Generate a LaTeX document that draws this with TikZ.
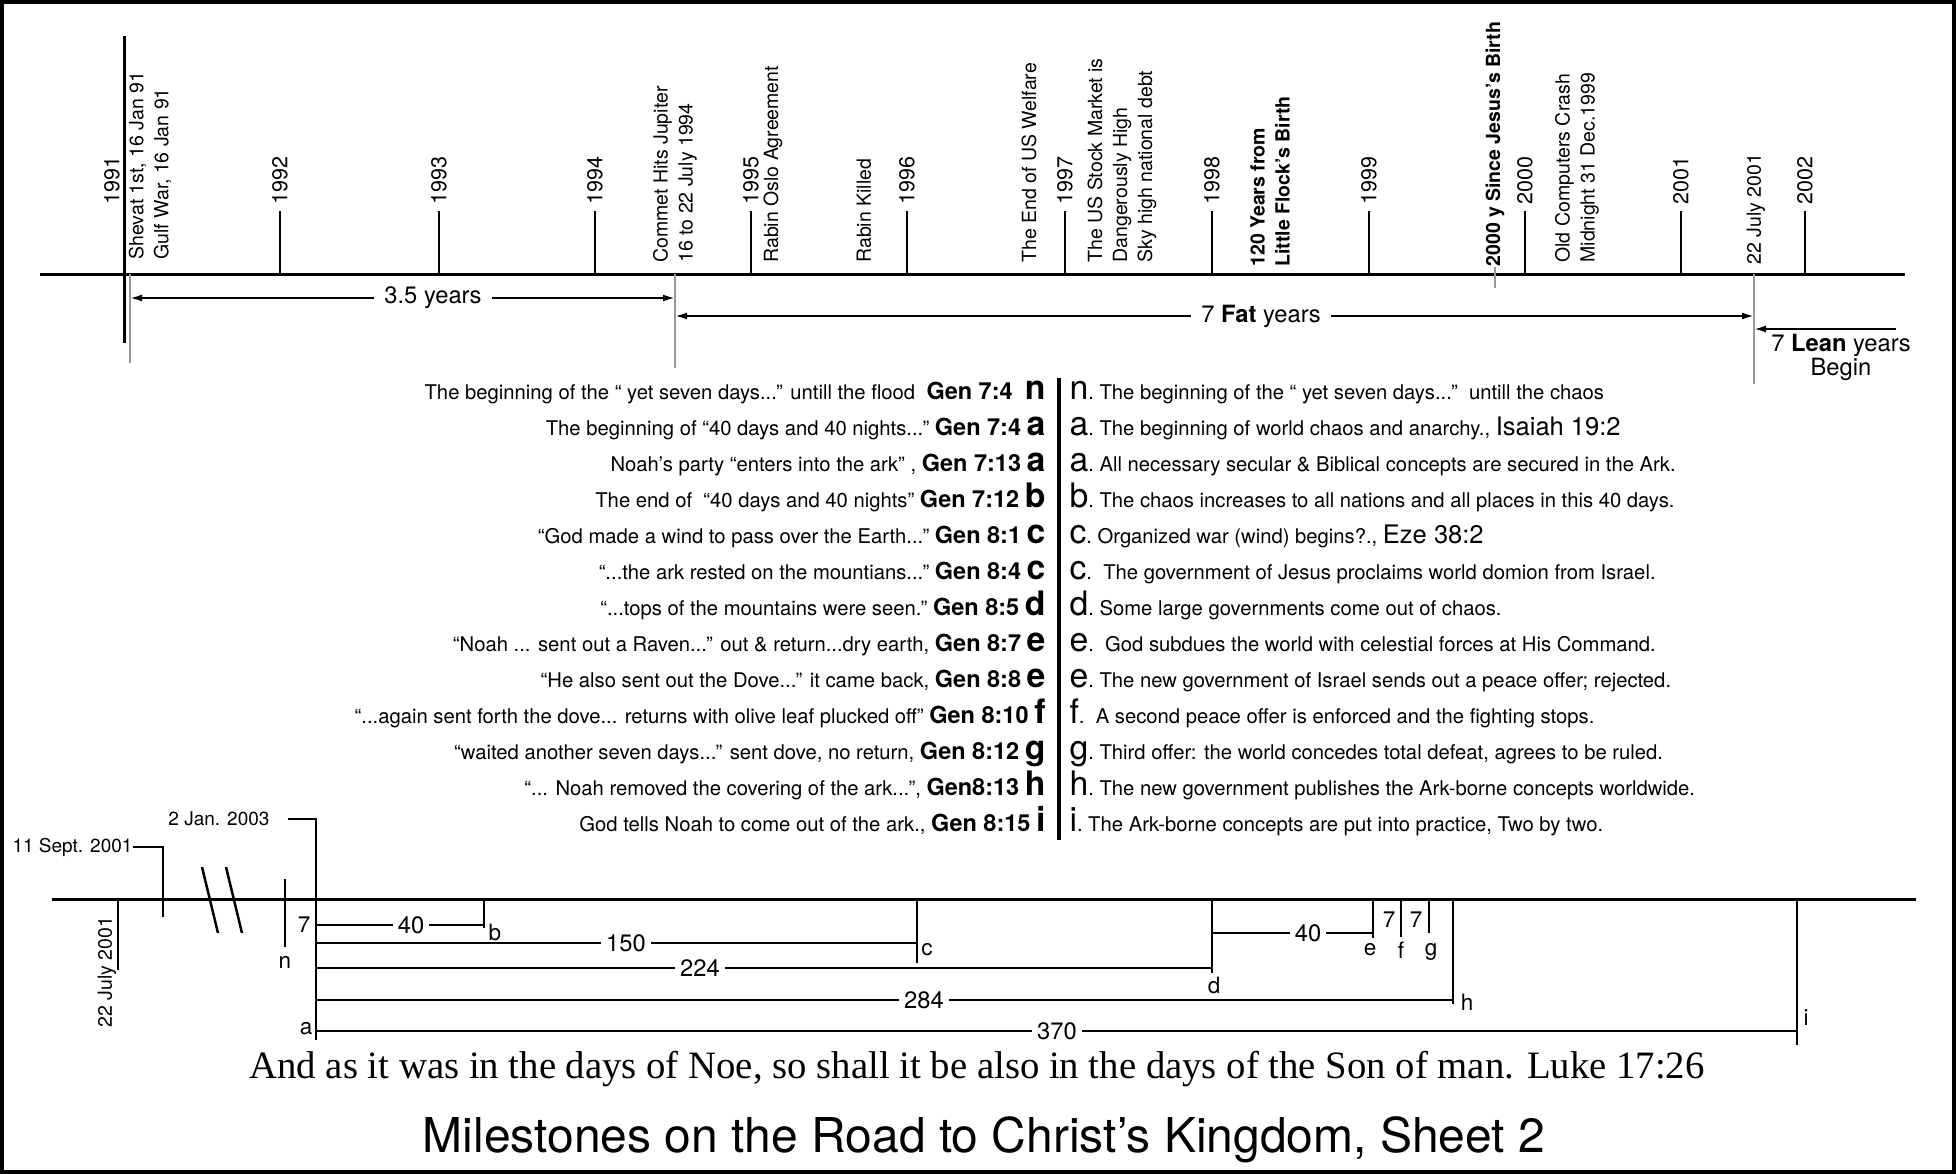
\documentclass[tikz,border=0pt]{standalone}
\usepackage{fontspec}
\setmainfont{TeX Gyre Heros}
\newfontfamily\versefont{Liberation Serif}
\usetikzlibrary{arrows.meta}

\newcommand{\genfont}{\bfseries\fontsize{9.4}{10}\selectfont}
\newcommand{\letterfont}{\fontsize{13.5}{13.5}\selectfont}
\newcommand{\biblefont}{\fontsize{10.2}{11}\selectfont}

\begin{document}
\begin{tikzpicture}[x=0.4pt, y=-0.4pt,
    axis/.style={line width=1.2pt},
    tick/.style={line width=1pt},
    guide/.style={line width=0.6pt, black!40},
    yearlabel/.style={rotate=90, anchor=west, inner sep=0pt, font=\fontsize{8.6}{10}\selectfont},
    eventlabel/.style={rotate=90, anchor=west, inner sep=0pt, align=left, font=\fontsize{7.8}{10}\selectfont},
    spanlabel/.style={fill=white, inner xsep=4pt, inner ysep=1pt, font=\fontsize{9.5}{10}\selectfont},
    rowleft/.style={anchor=base east, inner sep=0pt, font=\fontsize{8.1}{9}\selectfont},
    rowright/.style={anchor=base west, inner sep=0pt, font=\fontsize{8.1}{9}\selectfont},
    daynum/.style={fill=white, inner xsep=2pt, inner ysep=0pt, font=\fontsize{9.5}{10}\selectfont},
    daylabel/.style={inner sep=0pt, font=\fontsize{9}{10}\selectfont},
    datelabel/.style={inner sep=0pt, font=\fontsize{7.6}{8}\selectfont},
    >={Latex[length=4.8pt, width=2.8pt]}
]

    \useasboundingbox (0,0) rectangle (1956,1174);

    % Frame round the sheet
    \draw[line width=1.6pt] (2,2) rectangle (1954,1172);

    % Upper time axis with the year ticks
    \draw[axis] (40,274) -- (1905,274);
    \draw[axis] (124,36) -- (124,343);
    \node[yearlabel] (y1991) at (112,205) {1991};
    \foreach \x/\yr in {280/1992, 439/1993, 595/1994, 751/1995, 907/1996, 1065/1997,
                        1212/1998, 1369/1999, 1525/2000, 1681/2001, 1805/2002} {
        \draw[tick] (\x,274) -- (\x,211);
        \node[yearlabel] (y\yr) at (\x,205) {\yr};
    }

    % Events written upwards along the axis
    \foreach \x/\yb/\txt in {
        150/260/{Shevat 1st, 16 Jan 91\\Gulf War, 16 Jan 91},
        675/263/{Commet Hits Jupiter\\16 to 22 July 1994},
        773/263/{Rabin Oslo Agreement},
        864/263/{Rabin Killed},
        1029/263/{The End of US Welfare},
        1122/263/{The US Stock Market is\\Dangerously High\\Sky high national debt},
        1270/267/{\bfseries 120 Years from\\\bfseries Little Flock’s Birth},
        1495/267/{\bfseries 2000 y Since Jesus’s Birth},
        1577/263/{Old Computers Crash\\Midnight 31 Dec.1999},
        1756/265/{22 July 2001}} {
        \node[eventlabel] (ev\x) at (\x,\yb) {\txt};
    }

    % Grey guide lines below the axis
    \draw[guide] (130,274) -- (130,363);
    \draw[guide] (675,274) -- (675,368);
    \draw[guide] (1754,274) -- (1754,384);
    \draw[guide] (1495,267) -- (1495,288);

    % Periods between the guides
    \coordinate (shevat) at (130,298);
    \coordinate (commet) at (675,298);
    \coordinate (fatA) at (675,316);
    \coordinate (fatB) at (1754,316);
    \coordinate (leanA) at (1896,329);
    \coordinate (leanB) at (1754,329);
    \draw[<->, line width=0.8pt] (shevat) -- (commet);
    \node[spanlabel] (half) at (433,298) {3.5 years};
    \draw[<->, line width=0.8pt] (fatA) -- (fatB);
    \node[spanlabel] (fat) at (1261,316) {7 \textbf{Fat} years};
    \draw[->, line width=0.8pt] (leanA) -- (leanB);
    \node[font=\fontsize{9.5}{9.6}\selectfont, align=center, inner sep=0pt] (lean) at (1841,357)
        {7 \textbf{Lean} years\\Begin};

    % Flood days against the coming days
    \draw[line width=1.4pt] (1059,378) -- (1059,840);
    \foreach \k/\lt/\gref/\lett/\rt in {
        0/{The beginning of the “ yet seven days...” untill the flood\ }/{Gen 7:4\ }/n/{The beginning of the “ yet seven days...”\ \ untill the chaos},
        1/{The beginning of “40 days and 40 nights...”}/{Gen 7:4}/a/{The beginning of world chaos and anarchy., {\biblefont Isaiah 19:2}},
        2/{Noah’s party “enters into the ark” ,}/{Gen 7:13}/a/{All necessary secular \& Biblical concepts are secured in the Ark.},
        3/{The end of\ \ “40 days and 40 nights”}/{Gen 7:12}/b/{The chaos increases to all nations and all places in this 40 days.},
        4/{“God made a wind to pass over the Earth...”}/{Gen 8:1}/c/{Organized war (wind) begins?., {\biblefont Eze 38:2}},
        5/{“...the ark rested on the mountians...”}/{Gen 8:4}/c/{\ The government of Jesus proclaims world domion from Israel.},
        6/{“...tops of the mountains were seen.”}/{Gen 8:5}/d/{Some large governments come out of chaos.},
        7/{“Noah ... sent out a Raven...” out \& return...dry earth,}/{Gen 8:7}/e/{\ God subdues the world with celestial forces at His Command.},
        8/{“He also sent out the Dove...” it came back,}/{Gen 8:8}/e/{The new government of Israel sends out a peace offer; rejected.},
        9/{“...again sent forth the dove... returns with olive leaf plucked off”}/{Gen 8:10}/f/{\ A second peace offer is enforced and the fighting stops.},
        10/{“waited another seven days...” sent dove, no return,}/{Gen 8:12}/g/{Third offer: the world concedes total defeat, agrees to be ruled.},
        11/{“... Noah removed the covering of the ark...”,}/{Gen8:13}/h/{The new government publishes the Ark-borne concepts worldwide.},
        12/{God tells Noah to come out of the ark.,}/{Gen 8:15}/i/{The Ark-borne concepts are put into practice, Two by two.}} {
        \pgfmathsetmacro{\yb}{399+36*\k}
        \node[rowleft] (flood\k) at (1046,\yb) {\lt\ {\genfont\gref}\ {\letterfont\bfseries\lett}};
        \node[rowright] (chaos\k) at (1069,\yb) {{\letterfont\lett}.\ \rt};
    }

    % Lower time axis, counted in days
    \draw[axis] (52,899) -- (1916,899);
    \draw[tick] (118,899) -- (118,970);
    \node[datelabel, rotate=90, anchor=west, font=\fontsize{7.8}{8}\selectfont] (july) at (107,1028) {22 July 2001};
    \node[datelabel, anchor=east] (sept) at (133,847) {11 Sept. 2001};
    \draw[tick] (sept.east) -| (163,917);
    \draw[tick] (202,867) -- (218,933);
    \draw[tick] (226,867) -- (242,933);
    \node[datelabel, anchor=east] (jan) at (270,819) {2 Jan. 2003};
    \draw[tick] (288,819) -| (316,1040);
    \draw[tick] (285,879) -- (285,947);
    \node[daylabel] (dn) at (285,962) {n};
    \node[daylabel, anchor=east] (seven) at (311,925) {7};
    \node[daylabel, anchor=east] (da) at (313,1029) {a};

    % Day counts from the start of the flood
    \foreach \y/\xe/\num/\xn in {925/484/40/411, 943/917/150/626, 968/1212/224/700,
                                1000/1453/284/924, 1031/1797/370/1057} {
        \draw[tick] (316,\y) -- (\xe,\y);
        \node[daynum] (n\num) at (\xn,\y) {\num};
    }
    \draw[tick] (1212,933) -- (1373,933);
    \node[daynum] (n40b) at (1308,933) {40};
    \node[daylabel] (n7a) at (1389,920) {7};
    \node[daylabel] (n7b) at (1416,920) {7};

    % Day marks with their letters
    \foreach \x/\yend/\lx/\ly/\lett in {484/928/495/932/b, 917/963/927/950/c, 1212/973/1214/985/d,
                                       1373/938/1370/950/e, 1401/937/1401/950/f, 1429/933/1431/952/g,
                                       1453/1004/1467/1002/h, 1797/1045/1806/1018/i} {
        \draw[tick] (\x,899) -- (\x,\yend);
        \node[daylabel] (d\lett) at (\lx,\ly) {\lett};
    }

    % Verse and title
    \node[font=\versefont\fontsize{15.5}{17}\selectfont] (verse) at (977,1069)
        {And as it was in the days of Noe, so shall it be also in the days of the Son of man. Luke 17:26};
    \node[font=\fontsize{19.2}{22}\selectfont] (title) at (984,1140)
        {Milestones on the Road to Christ’s Kingdom, Sheet 2};

\end{tikzpicture}
\end{document}
